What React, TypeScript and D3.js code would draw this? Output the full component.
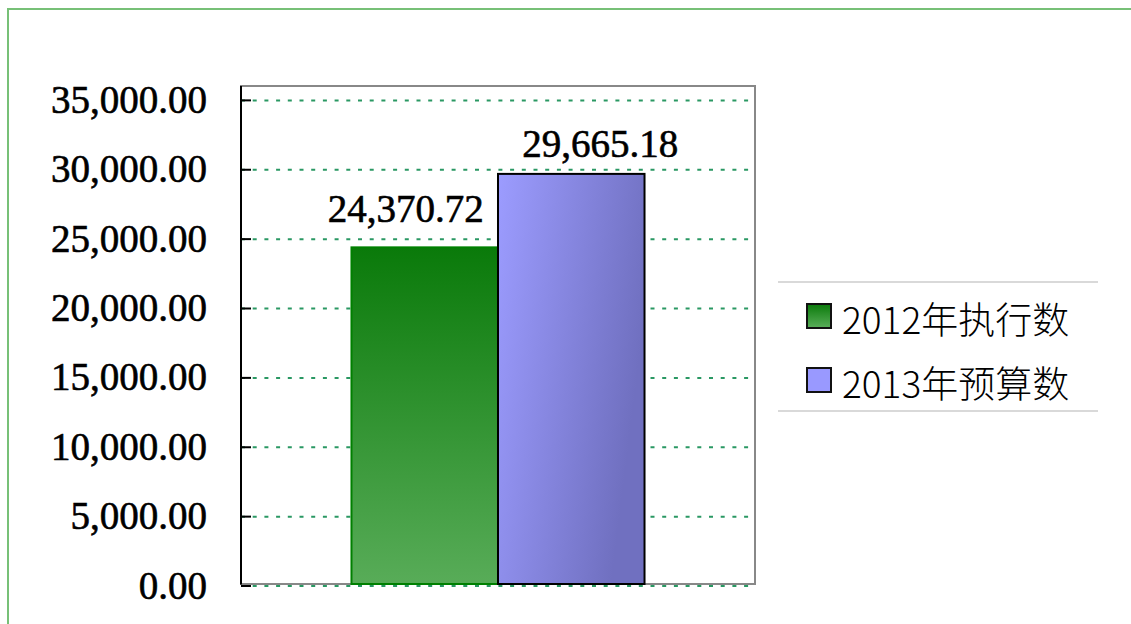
import React, { useEffect, useRef } from 'react';
import * as d3 from 'd3';

const categories = ['总计'];
const seriesNames = ['2012年执行数', '2013年预算数'];
const seriesValues = [24370.72, 29665.18];
const yTicks = [0, 5000, 10000, 15000, 20000, 25000, 30000, 35000];

const App = () => {
  const svgRef = useRef<SVGSVGElement>(null);

  useEffect(() => {
    const width = 1131;
    const height = 624;
    const plot = { left: 241, right: 755, top: 86, bottom: 585.5 };

    const svg = d3.select(svgRef.current);
    svg.selectAll('*').remove();
    svg.attr('width', width).attr('height', height);

    const defs = svg.append('defs');
    const gGreen = defs.append('linearGradient')
      .attr('id', 'gradGreen')
      .attr('x1', 0).attr('y1', 0).attr('x2', 0).attr('y2', 1);
    gGreen.append('stop').attr('offset', '0%').attr('stop-color', '#0a7a0a');
    gGreen.append('stop').attr('offset', '100%').attr('stop-color', '#58ac58');

    const gBlue = defs.append('linearGradient')
      .attr('id', 'gradBlue')
      .attr('x1', 0).attr('y1', 0).attr('x2', 1).attr('y2', 0.35);
    gBlue.append('stop').attr('offset', '0%').attr('stop-color', '#9c9cff');
    gBlue.append('stop').attr('offset', '100%').attr('stop-color', '#7070c0');

    const legGreen = defs.append('linearGradient')
      .attr('id', 'legGreen')
      .attr('x1', 0).attr('y1', 0).attr('x2', 0).attr('y2', 1);
    legGreen.append('stop').attr('offset', '0%').attr('stop-color', '#0a7a0a');
    legGreen.append('stop').attr('offset', '100%').attr('stop-color', '#5aae5a');

    const fills = ['url(#gradGreen)', 'url(#gradBlue)'];
    const strokes = ['#008000', '#000'];
    const legendFills = ['url(#legGreen)', '#9999ff'];

    // outer frame
    svg.append('rect')
      .attr('x', 8).attr('y', 9)
      .attr('width', 1200).attr('height', 700)
      .attr('fill', 'none')
      .attr('stroke', '#77c077')
      .attr('stroke-width', 2);

    const y = d3.scaleLinear().domain([0, 36000]).range([plot.bottom, plot.top]);

    const x0 = d3.scaleBand()
      .domain(categories)
      .range([plot.left, plot.right])
      .paddingInner(0)
      .paddingOuter(0.377);

    const x1 = d3.scaleBand()
      .domain(seriesNames)
      .range([0, x0.bandwidth()]);

    // plot frame
    svg.append('rect')
      .attr('x', plot.left).attr('y', plot.top)
      .attr('width', plot.right - plot.left)
      .attr('height', plot.bottom - 1.5 - plot.top)
      .attr('fill', 'none')
      .attr('stroke', '#888')
      .attr('stroke-width', 2);

    // grid
    svg.append('g')
      .attr('transform', `translate(${plot.left},0)`)
      .call(d3.axisRight(y).tickValues(yTicks).tickSize(plot.right - plot.left).tickFormat(() => ''))
      .call(g => g.select('.domain').remove())
      .selectAll('line')
      .attr('stroke', '#2a9863')
      .attr('stroke-width', 2)
      .attr('stroke-dasharray', '4 7.7');

    // y axis line
    svg.append('line')
      .attr('x1', plot.left).attr('x2', plot.left)
      .attr('y1', plot.top).attr('y2', plot.bottom - 1)
      .attr('stroke', '#000').attr('stroke-width', 2);

    // ticks + labels
    const yAxis = svg.append('g')
      .attr('transform', `translate(${plot.left},0)`)
      .call(d3.axisRight(y).tickValues(yTicks).tickSize(10).tickFormat(() => ''));
    yAxis.select('.domain').remove();
    yAxis.selectAll('line').attr('stroke', '#000').attr('stroke-width', 2);

    svg.append('g')
      .selectAll('text')
      .data(yTicks)
      .enter()
      .append('text')
      .attr('x', 207)
      .attr('y', d => y(d) + 13)
      .attr('text-anchor', 'end')
      .attr('font-family', '"Liberation Serif", serif')
      .attr('font-size', 39)
      .attr('fill', '#000')
      .attr('stroke', '#000')
      .attr('stroke-width', 0.6)
      .text(d => d3.format(',.2f')(d));

    // bars
    const barG = svg.append('g').attr('transform', `translate(${x0(categories[0])},0)`);
    barG.selectAll('rect')
      .data(seriesValues)
      .enter()
      .append('rect')
      .attr('x', (d, i) => x1(seriesNames[i]))
      .attr('y', d => y(d))
      .attr('width', x1.bandwidth())
      .attr('height', d => plot.bottom - 1.5 - y(d))
      .attr('fill', (d, i) => fills[i])
      .attr('stroke', (d, i) => strokes[i])
      .attr('stroke-width', 2);

    // value labels
    const labelDx = [-19, 29];
    const labelDy = [-25, -17];
    barG.selectAll('text')
      .data(seriesValues)
      .enter()
      .append('text')
      .attr('x', (d, i) => x1(seriesNames[i]) + x1.bandwidth() / 2 + labelDx[i])
      .attr('y', (d, i) => y(d) + labelDy[i])
      .attr('text-anchor', 'middle')
      .attr('font-family', '"Liberation Serif", serif')
      .attr('font-size', 39)
      .attr('fill', '#000')
      .attr('stroke', '#000')
      .attr('stroke-width', 0.6)
      .text(d => d3.format(',.2f')(d));

    // legend
    const legend = svg.append('g');
    legend.append('line')
      .attr('x1', 778).attr('x2', 1098).attr('y1', 282).attr('y2', 282)
      .attr('stroke', '#ccc').attr('stroke-width', 1.5);
    legend.append('line')
      .attr('x1', 778).attr('x2', 1098).attr('y1', 411).attr('y2', 411)
      .attr('stroke', '#ccc').attr('stroke-width', 1.5);

    const item = legend.selectAll('g.item')
      .data(seriesNames)
      .enter()
      .append('g')
      .attr('class', 'item')
      .attr('transform', (d, i) => `translate(0,${316 + i * 64})`);

    item.append('rect')
      .attr('x', 807).attr('y', -12)
      .attr('width', 24).attr('height', 24)
      .attr('fill', (d, i) => legendFills[i])
      .attr('stroke', '#111')
      .attr('stroke-width', 2);

    item.append('text')
      .attr('x', 842)
      .attr('y', 2)
      .attr('dominant-baseline', 'central')
      .attr('font-family', '"Noto Sans CJK SC", sans-serif')
      .attr('font-size', 37)
      .attr('font-weight', 300)
      .attr('fill', '#000')
      .text(d => d);
  }, []);

  return (
    <div style={{ position: 'absolute', left: 0, top: 0 }}>
      <svg ref={svgRef} style={{ display: 'block' }}></svg>
    </div>
  );
};

export default App;
